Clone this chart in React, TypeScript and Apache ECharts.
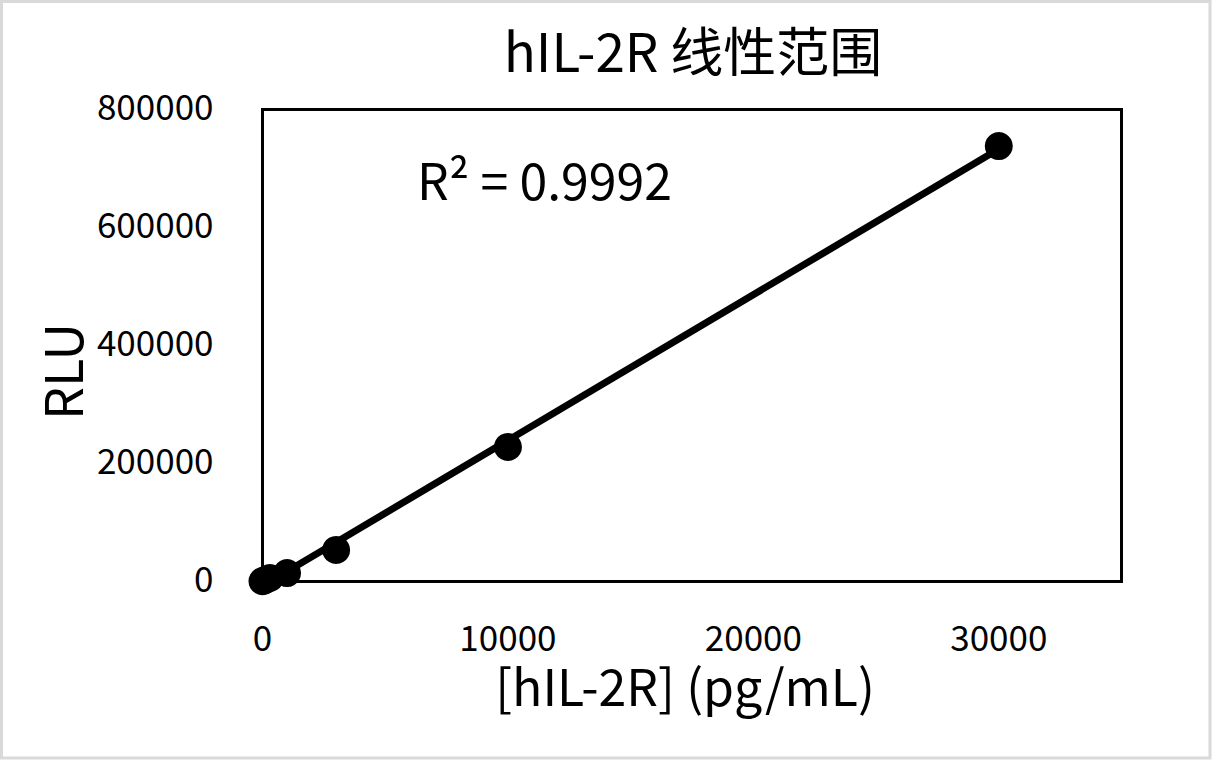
import React, { useEffect, useRef } from "react";
import * as echarts from "echarts";

// ---- data ----
const concentrations = [0, 100, 300, 1000, 3000, 10000, 30000];
const rluValues = [500, 2500, 6000, 14400, 53400, 228000, 738100];
const xTicks = [0, 10000, 20000, 30000];
const yTicks = [0, 200000, 400000, 600000, 800000];
const titleText = "hIL-2R 线性范围";
const xAxisName = "[hIL-2R] (pg/mL)";
const yAxisName = "RLU";
const r2Label = "R² = 0.9992";

const FONT = "'Noto Sans CJK SC', 'Noto Sans', sans-serif";

function linearFit(xs: number[], ys: number[]) {
  const n = xs.length;
  const mx = xs.reduce((a, b) => a + b, 0) / n;
  const my = ys.reduce((a, b) => a + b, 0) / n;
  let sxy = 0;
  let sxx = 0;
  for (let i = 0; i < n; i++) {
    sxy += (xs[i] - mx) * (ys[i] - my);
    sxx += (xs[i] - mx) * (xs[i] - mx);
  }
  const slope = sxy / sxx;
  const intercept = my - slope * mx;
  return { slope, intercept };
}

export default function App() {
  const ref = useRef<HTMLDivElement>(null);

  useEffect(() => {
    if (!ref.current) return;
    const chart = echarts.init(ref.current, undefined, { renderer: "svg" });
    const { slope, intercept } = linearFit(concentrations, rluValues);
    const xMin = Math.min(...concentrations);
    const xMax = Math.max(...concentrations);
    const trend = [
      [xMin, intercept + slope * xMin],
      [xMax, intercept + slope * xMax],
    ];
    const points = concentrations.map((c, i) => [c, rluValues[i]]);

    chart.setOption({
      animation: false,
      backgroundColor: "#ffffff",
      textStyle: { fontFamily: FONT, color: "#000" },
      title: {
        text: titleText,
        left: 688,
        textAlign: "center",
        top: 17,
        textStyle: { fontFamily: FONT, fontSize: 53, fontWeight: "normal", color: "#000" },
      },
      grid: {
        left: 262.5,
        right: 90.5,
        top: 109.5,
        bottom: 178.5,
        show: true,
        borderColor: "#000",
        borderWidth: 3,
        backgroundColor: "transparent",
      },
      xAxis: {
        type: "value",
        min: 0,
        max: 35000,
        interval: xTicks[1] - xTicks[0],
        name: xAxisName,
        nameLocation: "middle",
        nameGap: 77,
        nameTextStyle: { fontFamily: FONT, fontSize: 50, color: "#000", padding: [0, 14, 0, 0] },
        axisLine: { show: false },
        axisTick: { show: false },
        splitLine: { show: false },
        axisLabel: {
          showMaxLabel: false,
          fontFamily: FONT,
          fontSize: 35,
          color: "#000",
          margin: 36,
          formatter: (v: number) => (xTicks.includes(v) ? String(v) : ""),
        },
      },
      yAxis: {
        type: "value",
        min: 0,
        max: 800000,
        interval: yTicks[1] - yTicks[0],
        name: yAxisName,
        nameLocation: "middle",
        nameGap: 175,
        nameTextStyle: { fontFamily: FONT, fontSize: 52, color: "#000", padding: [0, 52, 0, 0] },
        axisLine: { show: false },
        axisTick: { show: false },
        splitLine: { show: false },
        axisLabel: {
          fontFamily: FONT,
          fontSize: 35,
          color: "#000",
          margin: 49,
          verticalAlign: "bottom",
          lineHeight: 10,
          formatter: (v: number) => String(v),
        },
      },
      graphic: [
        {
          type: "rect",
          silent: true,
          shape: { x: 1.5, y: 1.5, width: 1208.5, height: 756.5 },
          style: { fill: "none", stroke: "#d9d9d9", lineWidth: 3 },
          z: 100,
        },
        {
          type: "text",
          left: 417,
          top: 153,
          style: {
            text: r2Label,
            fontFamily: FONT,
            fontSize: 50,
            fill: "#000",
          },
          z: 100,
        },
      ],
      series: [
        {
          type: "line",
          data: trend,
          showSymbol: false,
          clip: false,
          lineStyle: { color: "#000", width: 7 },
          z: 2,
          silent: true,
        },
        {
          type: "scatter",
          data: points,
          symbol: "circle",
          symbolSize: 28,
          clip: false,
          itemStyle: { color: "#000", opacity: 1 },
          z: 3,
        },
      ],
    });

    return () => chart.dispose();
  }, []);

  return (
    <div
      ref={ref}
      style={{ position: "absolute", left: 0, top: 0, width: 1212, height: 760, background: "#fff" }}
    />
  );
}
